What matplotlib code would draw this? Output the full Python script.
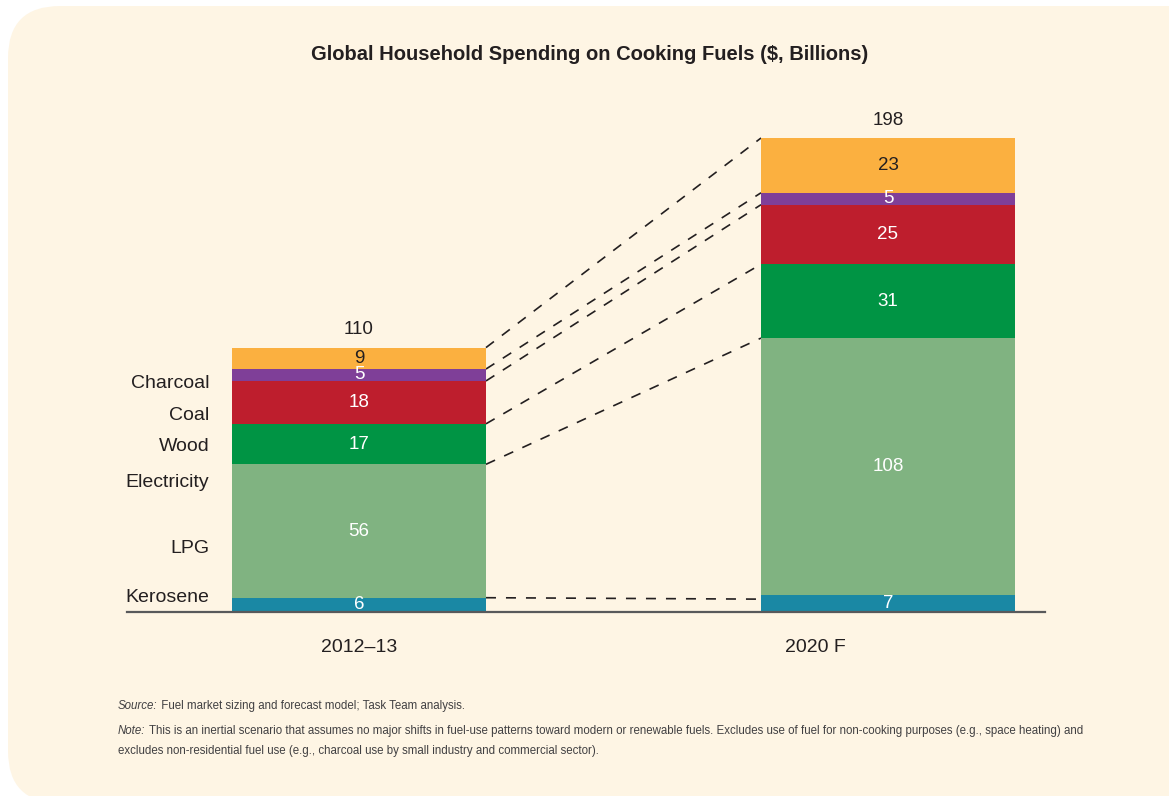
import matplotlib.pyplot as plt
import numpy as np
from matplotlib.patches import FancyBboxPatch

plt.rcParams['font.family'] = ['Liberation Sans', 'DejaVu Sans']

periods = ['2012\u201313', '2020 F']
fuels = ['Kerosene', 'LPG', 'Electricity', 'Wood', 'Coal', 'Charcoal']
kerosene = [6, 7]
lpg = [56, 108]
electricity = [17, 31]
wood = [18, 25]
coal = [5, 5]
charcoal = [9, 23]
totals = [110, 198]
# where the fuel names sit on the value axis in the original
fuel_label_y = [5.9, 26.5, 54.2, 69.3, 82.7, 96.1]

colors = ['#1a88a4', '#80b381', '#009444', '#be1e2d', '#7f3f98', '#fbb040']
text_colors = ['white', 'white', 'white', 'white', 'white', '#231f20']
bg = '#fef5e4'
ink = '#231f20'

W, H = 1169, 796
fig = plt.figure(figsize=(W / 100, H / 100), dpi=100)
fig.patch.set_facecolor('white')

# rounded cream panel (runs off the right edge and just below the bottom)
panel = FancyBboxPatch((8 / W, -7 / H), 1.2, 1 - 6 / H + 7 / H,
                       boxstyle='round,pad=0,rounding_size=%f' % (52 / W),
                       transform=fig.transFigure, facecolor=bg, edgecolor='none',
                       mutation_aspect=W / H, zorder=-5)
fig.patches.append(panel)

# axes in pixel terms: baseline at y=612, x from 127 to 1045
px = 2.382  # pixels per $bn
ymax = 220
ax_bottom = (H - 612) / H
ax_height = ymax * px / H
ax = fig.add_axes([127 / W, ax_bottom, (1045 - 127) / W, ax_height])
ax.set_facecolor('none')
ax.set_zorder(2)

x = np.array([0, 1])
width = 0.48
ax.set_xlim(-0.4386, 1.2968)
ax.set_ylim(0, ymax)

series = [kerosene, lpg, electricity, wood, coal, charcoal]
bottom = np.zeros(2)
tops = []
for vals, c, tc in zip(series, colors, text_colors):
    vals = np.array(vals)
    ax.bar(x, vals, width, bottom=bottom, color=c, linewidth=0, zorder=2)
    for xi, b, v in zip(x, bottom, vals):
        ax.text(xi, b + v / 2, str(v), ha='center', va='center',
                color=tc, fontsize=13.5, zorder=3)
    bottom = bottom + vals
    tops.append(bottom.copy())

for xi, t in zip(x, totals):
    ax.text(xi, t + 8.4, str(t), ha='center', va='center', color=ink, fontsize=13.5)

# dashed connectors between bars
x0, x1 = x[0] + width / 2, x[1] - width / 2
for i, t in enumerate(tops):
    if i == 0:
        ax.plot([x0, x1], [t[0], t[0] - 0.6], color=ink, lw=1.2,
                dashes=(6, 6), zorder=1)
    else:
        ax.plot([x0, x1], [t[0], t[1]], color=ink, lw=1.2,
                dashes=(6, 6), zorder=1)

# fuel names on the left
for name, yv in zip(fuels, fuel_label_y):
    ax.text(x[0] - width / 2 - 0.043, yv, name, ha='right', va='center',
            color=ink, fontsize=14)

# category labels
cat_x = [x[0], x[1] - 0.138]
for cx, p in zip(cat_x, periods):
    ax.text(cx, -15.1, p, ha='center', va='center', color=ink, fontsize=14)

for s in ['top', 'right', 'left']:
    ax.spines[s].set_visible(False)
ax.spines['bottom'].set_color('#58595b')
ax.spines['bottom'].set_linewidth(1.6)
ax.set_xticks([])
ax.set_yticks([])

fig.text(590 / W, 1 - 55 / H, 'Global Household Spending on Cooking Fuels ($, Billions)',
         ha='center', va='center', fontsize=14.5, fontweight='bold', color=ink)

# footnotes with italic lead-ins
fig.canvas.draw()
renderer = fig.canvas.get_renderer()
notes = [
    ('Source:', ' Fuel market sizing and forecast model; Task Team analysis.', 706),
    ('Note:', ' This is an inertial scenario that assumes no major shifts in fuel-use patterns '
     'toward modern or renewable fuels. Excludes use of fuel for non-cooking purposes '
     '(e.g., space heating) and', 731),
    ('', 'excludes non-residential fuel use (e.g., charcoal use by small industry and '
     'commercial sector).', 751),
]
for lead, body, yp in notes:
    xx = 118 / W
    if lead:
        t = fig.text(xx, 1 - yp / H, lead, ha='left', va='center', fontsize=8.3,
                     style='italic', color='#414042')
        bb = t.get_window_extent(renderer)
        xx = bb.x1 / W
    fig.text(xx, 1 - yp / H, body, ha='left', va='center', fontsize=8.3,
             color='#414042')

fig.savefig('out.png', dpi=100, facecolor=fig.get_facecolor())
